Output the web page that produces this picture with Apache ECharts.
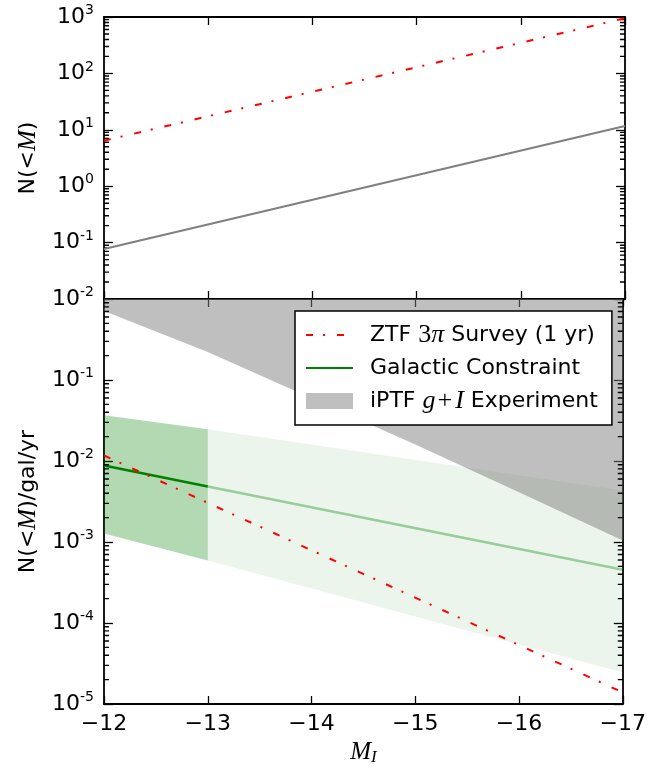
<!DOCTYPE html>
<html><head><meta charset="utf-8">
<script src="https://cdn.jsdelivr.net/npm/echarts@6/dist/echarts.min.js"></script>
<style>html,body{margin:0;padding:0;background:#fff}#c{width:649px;height:772px}</style>
</head><body><div id="c"></div><script>
// ---- data ----
const xTickValues = [-12, -13, -14, -15, -16, -17];
const topYTickExps = [-2, -1, 0, 1, 2, 3];
const bottomYTickExps = [-5, -4, -3, -2, -1, 0];

// top panel: N(<M)
const ztfMag = [-12, -17];
const ztfTotal = [6.4, 950];
const galMag = [-12, -17];
const galTotal = [0.077, 11.7];

// bottom panel: N(<M)/gal/yr
const ztfPerGal = [0.0117, 1.39e-5];
const galLineMagDark = [-12, -13];
const galLineDark = [8.8e-3, 4.85e-3];
const galLineMagLight = [-13, -17];
const galLineLight = [4.85e-3, 4.55e-4];
const bandMagDark = [-12, -13];
const bandUpperDark = [0.0366, 0.0246];
const bandLowerDark = [1.27e-3, 5.9e-4];
const bandMagLight = [-13, -17];
const bandUpperLight = [0.0246, 4.33e-3];
const bandLowerLight = [5.9e-4, 2.44e-5];
const iptfMag = [-12, -13, -14, -15, -16, -17];
const iptfLower = [0.71, 0.221, 0.0595, 0.016, 0.0041, 1.04e-3];

// ---- helpers ----
const FONT = 'DejaVu Sans';
const zip = (a, b) => a.map((v, i) => [v, b[i]]);
const supRich = {
  b: {fontSize: 22, fontFamily: FONT, color: '#000'},
  s: {fontSize: 14, fontFamily: FONT, color: '#000', padding: [0, 0, 13, 0]}
};
function logLabel(v) {
  const e = Math.round(Math.log10(v));
  return '{b|10}{s|' + e + '}';
}
const mathRich = {
  m: {fontFamily: 'Liberation Serif', fontStyle: 'italic', fontSize: 25, color: '#000'},
  r: {fontFamily: 'Liberation Serif', fontSize: 25, color: '#000'},
  sub: {fontFamily: 'Liberation Serif', fontStyle: 'italic', fontSize: 17, color: '#000', padding: [10, 0, 0, 0]}
};
function minorValues(exps) {
  const out = [];
  for (let i = 0; i < exps.length - 1; i++) {
    for (let k = 2; k <= 9; k++) out.push(k * Math.pow(10, exps[i]));
  }
  return out;
}
// minor log ticks on both sides, as one polygon per side, placed through the y axis scale
function minorTickRender(exps, side) {
  const vals = minorValues(exps);
  return function (params, api) {
    if (params.dataIndex !== 0) return null;
    const cs = params.coordSys;
    const L = 5, h = 0.7;
    const x0 = side === 'left' ? cs.x : cs.x + cs.width;
    const x1 = side === 'left' ? cs.x + L : cs.x + cs.width - L;
    const pts = [[x0, cs.y]];
    vals.slice().sort((a, b) => b - a).forEach(function (v) {
      const y = api.coord([-12, v])[1];
      pts.push([x0, y - h], [x1, y - h], [x1, y + h], [x0, y + h]);
    });
    pts.push([x0, cs.y + cs.height]);
    return {type: 'polygon', shape: {points: pts}, style: {fill: '#000'}};
  };
}
function polyRender(mags, upper, lower, color) {
  return function (params, api) {
    if (params.dataIndex !== 0) return null;
    const cs = params.coordSys;
    const pts = [];
    for (let i = 0; i < mags.length; i++) {
      pts.push(upper ? api.coord([mags[i], upper[i]]) : [api.coord([mags[i], lower[i]])[0], cs.y]);
    }
    for (let i = mags.length - 1; i >= 0; i--) pts.push(api.coord([mags[i], lower[i]]));
    return {type: 'polygon', shape: {points: pts}, style: {fill: color}};
  };
}

const AXLW = 1.8;
function xAxis(grid, pos, labels) {
  return {
    type: 'value', gridIndex: grid, position: pos, min: -17, max: -12, interval: 1, inverse: true,
    axisLine: {show: true, onZero: false, lineStyle: {color: '#000', width: AXLW}},
    axisTick: {show: true, inside: true, length: 8, lineStyle: {color: '#000', width: 1.3}},
    axisLabel: {show: labels, margin: 9, fontSize: 22, fontFamily: FONT, color: '#000',
      formatter: v => xTickValues.indexOf(v) >= 0 ? '\u2212' + Math.abs(v) : ''},
    splitLine: {show: false},
    name: labels ? '{m|M}{sub|I}' : '', nameLocation: 'middle', nameGap: 33,
    nameTextStyle: {rich: mathRich}
  };
}
function yAxis(grid, pos, min, max, labels, showMax, name, exps) {
  return {
    type: 'log', logBase: 10, gridIndex: grid, position: pos, min: min, max: max, splitNumber: exps.length - 1,
    axisLine: {show: true, onZero: false, lineStyle: {color: '#000', width: AXLW}},
    axisTick: {show: true, inside: true, length: 9, lineStyle: {color: '#000', width: 1.3}},
    axisLabel: {show: labels, margin: 10, showMaxLabel: showMax, showMinLabel: true,
      formatter: logLabel, rich: supRich},
    splitLine: {show: false},
    minorTick: {show: false},
    name: name, nameLocation: 'middle', nameGap: 62,
    nameTextStyle: {fontSize: 22, fontFamily: FONT, color: '#000',
      rich: {m: {fontFamily: 'Liberation Serif', fontStyle: 'italic', fontSize: 25, color: '#000'}}}
  };
}

const ztfDash = [7, 10, 2, 12];
const hiddenSymbol = {color: 'rgba(0,0,0,0)', borderWidth: 0, opacity: 0};
const tickSeries = (xi, yi, exps, side, anchor) => ({
  type: 'custom', name: 'minor' + yi + side, xAxisIndex: xi, yAxisIndex: yi, silent: true, z: 4,
  data: [[-12, anchor]], encode: {x: 0, y: 1}, renderItem: minorTickRender(exps, side)
});
const chart = echarts.init(document.getElementById('c'), null, {renderer: 'canvas'});
chart.setOption({
  animation: false,
  backgroundColor: '#fff',
  grid: [
    {left: 104, top: 17, width: 521, height: 282},
    {left: 104, top: 299, width: 521, height: 405}
  ],
  xAxis: [
    xAxis(0, 'bottom', false), xAxis(0, 'top', false),
    xAxis(1, 'bottom', true), xAxis(1, 'top', false)
  ],
  yAxis: [
    yAxis(0, 'left', 1e-2, 1e3, true, true, 'N(<{m|M})', topYTickExps),
    yAxis(0, 'right', 1e-2, 1e3, false, true, '', topYTickExps),
    yAxis(1, 'left', 1e-5, 1e0, true, false, 'N(<{m|M})/gal/yr', bottomYTickExps),
    yAxis(1, 'right', 1e-5, 1e0, false, false, '', bottomYTickExps)
  ],
  legend: {
    orient: 'vertical', left: 295, top: 311,
    padding: [11, 14, 11, 10], itemGap: 9, itemWidth: 47, itemHeight: 16,
    backgroundColor: '#fff', borderColor: '#000', borderWidth: 1.5, borderRadius: 0,
    selectedMode: false,
    textStyle: {fontSize: 22, fontFamily: FONT, color: '#000', lineHeight: 22,
      rich: {
        g: {width: 12},
        m: {fontFamily: 'Liberation Serif', fontStyle: 'italic', fontSize: 26, color: '#000', lineHeight: 22},
        r: {fontFamily: 'Liberation Serif', fontSize: 26, color: '#000', lineHeight: 22},
        p: {fontFamily: 'Liberation Serif', fontSize: 26, color: '#000', lineHeight: 22, padding: [0, 3, 0, 2]}
      }},
    data: [
      {name: 'ZTF', itemStyle: hiddenSymbol},
      {name: 'Gal', itemStyle: hiddenSymbol},
      {name: 'iPTF', icon: 'rect', itemStyle: {color: 'rgba(128,128,128,0.5)'}}
    ],
    formatter: function (n) {
      if (n === 'ZTF') return '{g|}ZTF {r|3}{m|π} Survey (1 yr)';
      if (n === 'Gal') return '{g|}Galactic Constraint';
      return '{g|}iPTF {m|g}{p|+}{m|I} Experiment';
    }
  },
  series: [
    // top panel
    {type: 'line', name: 'ZTF', xAxisIndex: 0, yAxisIndex: 0, data: zip(ztfMag, ztfTotal), showSymbol: false, symbol: 'none',
      lineStyle: {color: '#ff0000', width: 2, type: ztfDash}, itemStyle: {color: '#ff0000'}, z: 5},
    {type: 'line', name: 'GalTop', xAxisIndex: 0, yAxisIndex: 0, data: zip(galMag, galTotal), showSymbol: false, symbol: 'none',
      lineStyle: {color: '#808080', width: 2.2}, itemStyle: {color: '#808080'}, z: 4},
    tickSeries(0, 0, topYTickExps, 'left', 1),
    tickSeries(0, 0, topYTickExps, 'right', 1),
    // bottom panel
    {type: 'custom', name: 'bandDark', xAxisIndex: 2, yAxisIndex: 2, silent: true, z: 1,
      data: bandMagDark.map((m, i) => [m, bandUpperDark[i], bandLowerDark[i]]), encode: {x: 0, y: [1, 2]},
      renderItem: polyRender(bandMagDark, bandUpperDark, bandLowerDark, 'rgba(0,128,0,0.3)')},
    {type: 'custom', name: 'bandLight', xAxisIndex: 2, yAxisIndex: 2, silent: true, z: 1,
      data: bandMagLight.map((m, i) => [m, bandUpperLight[i], bandLowerLight[i]]), encode: {x: 0, y: [1, 2]},
      renderItem: polyRender(bandMagLight, bandUpperLight, bandLowerLight, 'rgba(0,128,0,0.08)')},
    {type: 'line', name: 'Gal', xAxisIndex: 2, yAxisIndex: 2, data: zip(galLineMagDark, galLineDark), showSymbol: false, symbol: 'none',
      lineStyle: {color: '#008000', width: 2.4}, itemStyle: {color: '#008000'}, z: 3},
    {type: 'line', name: 'GalLight', xAxisIndex: 2, yAxisIndex: 2, data: zip(galLineMagLight, galLineLight), showSymbol: false, symbol: 'none',
      lineStyle: {color: 'rgba(0,128,0,0.35)', width: 2.4}, z: 3},
    {type: 'custom', name: 'iPTF', xAxisIndex: 2, yAxisIndex: 2, silent: true, z: 3,
      itemStyle: {color: 'rgba(128,128,128,0.5)'},
      data: iptfMag.map((m, i) => [m, iptfLower[i]]), encode: {x: 0, y: 1},
      renderItem: polyRender(iptfMag, null, iptfLower, 'rgba(128,128,128,0.5)')},
    {type: 'line', name: 'ZTF', xAxisIndex: 2, yAxisIndex: 2, data: zip(ztfMag, ztfPerGal), showSymbol: false, symbol: 'none',
      lineStyle: {color: '#ff0000', width: 2, type: ztfDash}, itemStyle: {color: '#ff0000'}, z: 5},
    tickSeries(2, 2, bottomYTickExps, 'left', 0.01),
    tickSeries(2, 2, bottomYTickExps, 'right', 0.01)
  ]
});
</script></body></html>
